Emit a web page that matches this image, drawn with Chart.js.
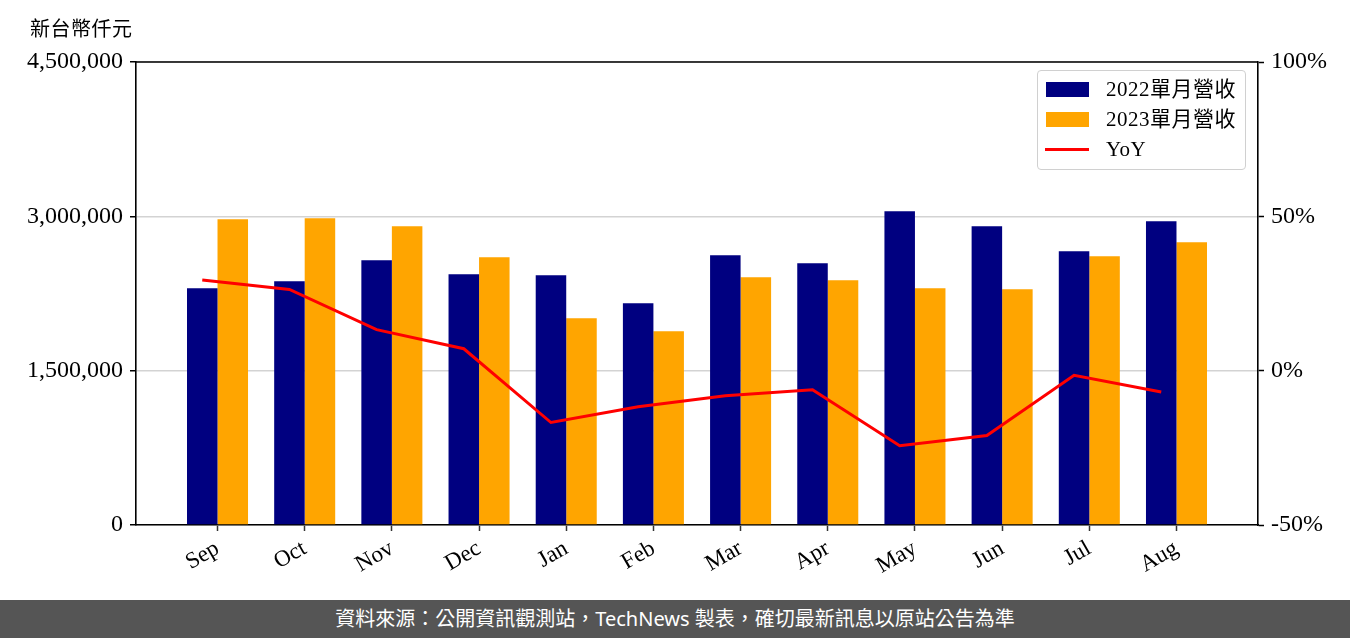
<!DOCTYPE html>
<html>
<head>
<meta charset="utf-8">
<script src="https://cdn.jsdelivr.net/npm/chart.js@4.4.0/dist/chart.umd.min.js"></script>
<style>
    body { margin: 0; width: 1350px; height: 638px; overflow: hidden; background: #fff; font-family: 'Liberation Serif', 'Noto Sans CJK TC', serif; }
    .chartWrap { position: relative; width: 1350px; height: 600px; }
    .unitTitle { position: absolute; left: 30px; top: 13px; font-size: 20px; letter-spacing: 0.5px; color: #000; font-family: 'Noto Sans CJK TC', sans-serif; }
    .legendBox { position: absolute; left: 1037px; top: 70px; width: 207px; height: 95px; border: 1px solid #d0d0d0; border-radius: 4px; background: rgba(255, 255, 255, 0.8); box-sizing: content-box; padding-top: 3px; }
    .legendRow { position: relative; height: 30px; line-height: 30px; font-size: 21px; color: #000; }
    .legendRow .swatch { position: absolute; left: 8px; top: 8px; width: 43px; height: 15px; }
    .legendRow .lineSwatch { position: absolute; left: 7px; top: 14px; width: 44px; height: 3px; }
    .legendRow .legendText { position: absolute; left: 68px; top: 0; white-space: nowrap; letter-spacing: 0.5px; }
    .footer { width: 1350px; height: 38px; background: #555555; color: #fff; text-align: center; line-height: 38px; font-size: 20px; font-family: 'Noto Sans', 'Noto Sans CJK TC', sans-serif; }
</style>
</head>
<body>
<div class="chartWrap">
    <canvas class="revenueChart" width="1350" height="600"></canvas>
    <div class="unitTitle">新台幣仟元</div>
    <div class="legendBox"></div>
</div>
<div class="footer">資料來源：公開資訊觀測站，TechNews 製表，確切最新訊息以原站公告為準</div>
<script>
const months = ['Sep', 'Oct', 'Nov', 'Dec', 'Jan', 'Feb', 'Mar', 'Apr', 'May', 'Jun', 'Jul', 'Aug'];
const revenue2022 = [2301000, 2369000, 2573000, 2437000, 2427000, 2155000, 2621000, 2544000, 3049000, 2903000, 2660000, 2952000];
const revenue2023 = [2971000, 2981000, 2903000, 2602000, 2010000, 1883000, 2408000, 2379000, 2301000, 2291000, 2612000, 2748000];
const yoyPercent = [29.4, 26.3, 13.3, 7.1, -16.8, -11.7, -8.1, -6.2, -24.3, -21.0, -1.5, -6.9];
const leftTicks = [0, 1500000, 3000000, 4500000];
const rightTicks = [-50, 0, 50, 100];
const seriesNames = ['2022單月營收', '2023單月營收', 'YoY'];
const BAR_WIDTH = 0.35; // bar width in category units

const revenueChartDOM = document.querySelector('.revenueChart');
const legendBoxDOM = document.querySelector('.legendBox');

const tickFont = { family: "'Liberation Serif', serif", size: 24 };

// top edge of the frame (the axes draw the other three sides)
const frameTop = {
    id: 'frameTop',
    afterDraw(chart) {
        const { ctx, chartArea: a } = chart;
        ctx.save();
        ctx.strokeStyle = '#000';
        ctx.lineWidth = 1.6;
        ctx.beginPath();
        ctx.moveTo(a.left, a.top);
        ctx.lineTo(a.right, a.top);
        ctx.stroke();
        ctx.restore();
    }
};

const data = {
    datasets: [
        {
            type: 'line',
            label: seriesNames[2],
            data: yoyPercent.map((v, i) => ({ x: i - BAR_WIDTH / 2, y: v })),
            borderColor: '#ff0000',
            borderWidth: 3,
            pointRadius: 0,
            tension: 0,
            xAxisID: 'x',
            yAxisID: 'y2',
            order: 0
        },
        {
            type: 'bar',
            label: seriesNames[0],
            data: revenue2022.map((v, i) => ({ x: i, y: v })),
            backgroundColor: '#000080',
            categoryPercentage: BAR_WIDTH * 2,
            barPercentage: 1,
            xAxisID: 'x',
            yAxisID: 'y',
            order: 1
        },
        {
            type: 'bar',
            label: seriesNames[1],
            data: revenue2023.map((v, i) => ({ x: i, y: v })),
            backgroundColor: '#ffa500',
            categoryPercentage: BAR_WIDTH * 2,
            barPercentage: 1,
            xAxisID: 'x',
            yAxisID: 'y',
            order: 1
        }
    ]
};

const config = {
    type: 'bar',
    data: data,
    plugins: [frameTop],
    options: {
        responsive: false,
        animation: false,
        layout: { padding: { top: 62, left: 0, right: 0, bottom: 0 } },
        plugins: {
            legend: { display: false },
            tooltip: { enabled: false }
        },
        scales: {
            x: {
                type: 'linear',
                offset: false,
                min: -BAR_WIDTH - 0.585,
                max: months.length - 1 + BAR_WIDTH + 0.585,
                afterBuildTicks: (scale) => { scale.ticks = months.map((_, i) => ({ value: i })); },
                afterFit: (scale) => { scale.height = 75; },
                ticks: {
                    callback: (value) => months[value],
                    minRotation: 30,
                    maxRotation: 30,
                    autoSkip: false,
                    padding: 4,
                    color: '#000',
                    font: { family: "'Liberation Serif', serif", size: 23 }
                },
                grid: { offset: false, drawOnChartArea: false, tickLength: 6, tickColor: '#333', tickWidth: 1.5 },
                border: { color: '#000', width: 1.6 }
            },
            y: {
                position: 'left',
                min: 0,
                max: 4500000,
                afterBuildTicks: (scale) => { scale.ticks = leftTicks.map(v => ({ value: v })); },
                afterFit: (scale) => { scale.width = 136; },
                ticks: {
                    callback: (value) => value.toLocaleString('en-US'),
                    padding: 7,
                    color: '#000',
                    font: tickFont
                },
                grid: { color: '#d3d3d3', lineWidth: 1.5, tickLength: 6, tickColor: '#000', tickWidth: 1.5 },
                border: { color: '#000', width: 1.6 }
            },
            y2: {
                position: 'right',
                min: -50,
                max: 100,
                afterBuildTicks: (scale) => { scale.ticks = rightTicks.map(v => ({ value: v })); },
                afterFit: (scale) => { scale.width = 92; },
                ticks: {
                    callback: (value) => value + '%',
                    padding: 7,
                    color: '#000',
                    font: tickFont
                },
                grid: { drawOnChartArea: false, tickLength: 6, tickColor: '#000', tickWidth: 1.5 },
                border: { color: '#000', width: 1.6 }
            }
        }
    }
};

const revenueChart = new Chart(revenueChartDOM, config);

// legend, in the same order as the reference: two bars, then the line
[1, 2, 0].forEach(index => {
    const ds = revenueChart.data.datasets[index];
    const row = document.createElement('div');
    row.className = 'legendRow';
    const mark = document.createElement('div');
    if (ds.type === 'line') {
        mark.className = 'lineSwatch';
        mark.style.background = ds.borderColor;
    } else {
        mark.className = 'swatch';
        mark.style.background = ds.backgroundColor;
    }
    const text = document.createElement('span');
    text.className = 'legendText';
    text.textContent = ds.label;
    row.appendChild(mark);
    row.appendChild(text);
    legendBoxDOM.appendChild(row);
});
</script>
</body>
</html>
